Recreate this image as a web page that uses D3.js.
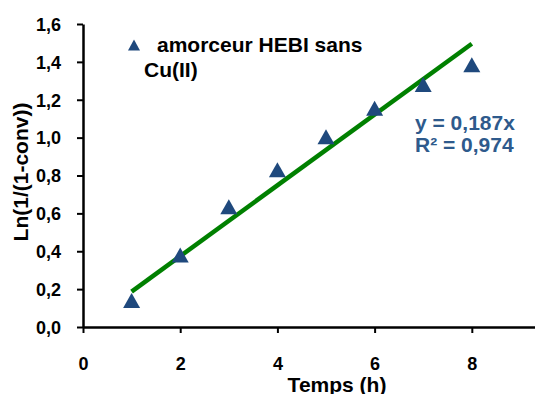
<!DOCTYPE html>
<html><head><meta charset="utf-8">
<script src="https://cdn.jsdelivr.net/npm/d3@7"></script>
<style>body{margin:0;background:#fff}svg{display:block}text{font-family:"Liberation Sans",Arial,sans-serif;font-weight:bold}</style>
</head><body>
<script>
const times = [1, 2, 3, 4, 5, 6, 7, 8];
const lnValues = [0.14, 0.38, 0.635, 0.83, 1.005, 1.155, 1.28, 1.385];
const slope = 0.187;
const fitRange = [1, 8];
const yTicks = [0, 0.2, 0.4, 0.6, 0.8, 1.0, 1.2, 1.4, 1.6];
const xTicks = [0, 2, 4, 6, 8];
const legendLabel = ["amorceur HEBI sans", "Cu(II)"];
const eqLabels = ["y = 0,187x", "R² = 0,974"];

const W = 535, H = 394;
const svg = d3.select("body").append("svg").attr("width", W).attr("height", H);
const x = d3.scaleLinear().domain([0, 9.3]).range([83, 535]);
const y = d3.scaleLinear().domain([0, 1.6]).range([327, 24]);
const fmt = d => d3.format(".1f")(d).replace(".", ",");

// trendline
svg.append("line")
  .attr("x1", x(fitRange[0])).attr("y1", y(slope * fitRange[0]))
  .attr("x2", x(fitRange[1])).attr("y2", y(slope * fitRange[1]))
  .attr("stroke", "#008000").attr("stroke-width", 4.5);

// markers
const tri = (cx, cy, w, h) => `M${cx - w/2},${cy + h/2}L${cx},${cy - h/2}L${cx + w/2},${cy + h/2}Z`;
svg.selectAll("path.pt").data(times).enter().append("path").attr("class", "pt")
  .attr("d", (d, i) => tri(x(d), y(lnValues[i]), 17, 15))
  .attr("fill", "#1F497D");

// axes
const yAxis = svg.append("g").attr("transform", `translate(${x(0)},0)`)
  .call(d3.axisLeft(y).tickValues(yTicks).tickFormat(fmt).tickSize(6).tickSizeOuter(0));
const xAxis = svg.append("g").attr("transform", `translate(0,${y(0)})`)
  .call(d3.axisBottom(x).tickValues(xTicks).tickFormat(d => d).tickSize(6).tickSizeOuter(0));
[yAxis, xAxis].forEach(g => {
  g.select(".domain").attr("stroke", "#000").attr("stroke-width", 2.5);
  g.selectAll(".tick line").attr("stroke", "#000").attr("stroke-width", 2);
  g.selectAll("text").attr("font-size", 18).attr("fill", "#000")
    .style("font-family", '"Liberation Sans",Arial,sans-serif').style("font-weight", "bold");
});
yAxis.selectAll(".tick text").attr("x", -22).attr("dy", "0.35em");
xAxis.selectAll(".tick text").attr("y", 30).attr("dy", "0.71em");
xAxis.selectAll(".tick text").attr("dy", null).attr("y", 43);

// axis titles
svg.append("text").attr("x", 337).attr("y", 392).attr("text-anchor", "middle")
  .attr("font-size", 21).text("Temps (h)");
svg.append("text").attr("transform", "translate(28,172) rotate(-90)").attr("text-anchor", "middle")
  .attr("font-size", 21).text("Ln(1/(1-conv))");

// legend
svg.append("path").attr("d", tri(134, 45, 12, 11)).attr("fill", "#1F497D");
svg.append("text").attr("x", 157).attr("y", 52).attr("font-size", 21).text(legendLabel[0]);
svg.append("text").attr("x", 144).attr("y", 77).attr("font-size", 21).text(legendLabel[1]);

// equation
svg.append("text").attr("x", 415).attr("y", 130).attr("font-size", 21).attr("fill", "#2E5A8C").text(eqLabels[0]);
svg.append("text").attr("x", 415).attr("y", 152).attr("font-size", 21).attr("fill", "#2E5A8C").text(eqLabels[1]);
</script>
</body></html>
